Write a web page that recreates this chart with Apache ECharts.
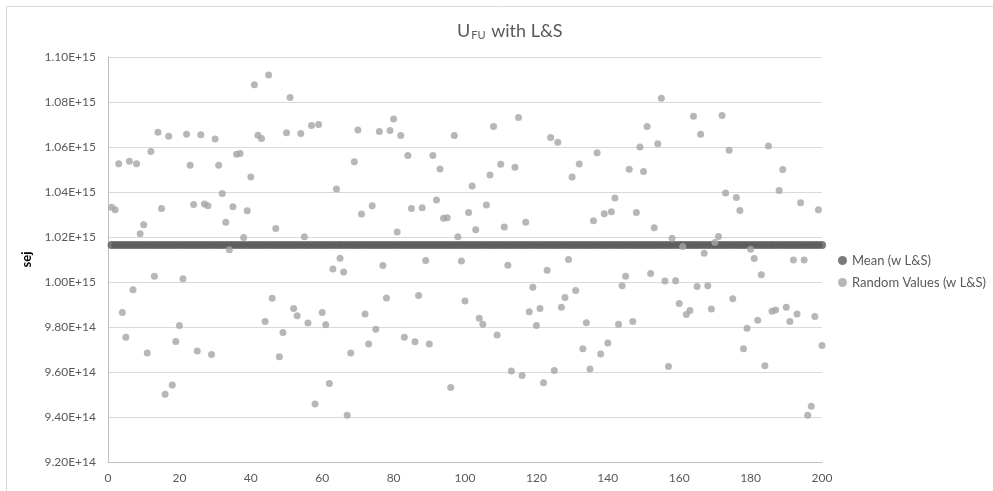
<!DOCTYPE html>
<html>
<head>
<meta charset="utf-8">
<script src="https://cdn.jsdelivr.net/npm/echarts@6/dist/echarts.min.js"></script>
<style>
  html, body { margin: 0; padding: 0; background: #ffffff; }
  #chart { width: 993px; height: 491px; }
</style>
</head>
<body>
<div id="chart"></div>
<script>
// Random emergy values (sej) drawn for runs 1..200, with L&S
const randomValues = [
  1.0332e15, 1.0321e15, 1.0526e15, 9.865e14, 9.754e14, 1.0537e15, 9.966e14, 1.0526e15, 1.0214e15, 1.0254e15,
  9.684e14, 1.0580e15, 1.0026e15, 1.0666e15, 1.0327e15, 9.501e14, 1.0648e15, 9.542e14, 9.736e14, 9.807e14,
  1.0014e15, 1.0657e15, 1.0519e15, 1.0344e15, 9.693e14, 1.0654e15, 1.0347e15, 1.0339e15, 9.678e14, 1.0636e15,
  1.0519e15, 1.0393e15, 1.0266e15, 1.0143e15, 1.0335e15, 1.0568e15, 1.0571e15, 1.0198e15, 1.0317e15, 1.0467e15,
  1.0877e15, 1.0652e15, 1.0638e15, 9.825e14, 1.0920e15, 9.928e14, 1.0238e15, 9.668e14, 9.776e14, 1.0663e15,
  1.0820e15, 9.882e14, 9.850e14, 1.0660e15, 1.0201e15, 9.818e14, 1.0696e15, 9.458e14, 1.0700e15, 9.865e14,
  9.810e14, 9.549e14, 1.0058e15, 1.0413e15, 1.0106e15, 1.0045e15, 9.408e14, 9.685e14, 1.0534e15, 1.0676e15,
  1.0302e15, 9.858e14, 9.724e14, 1.0339e15, 9.790e14, 1.0669e15, 1.0073e15, 9.929e14, 1.0673e15, 1.0725e15,
  1.0222e15, 1.0651e15, 9.754e14, 1.0562e15, 1.0327e15, 9.735e14, 9.940e14, 1.0330e15, 1.0096e15, 9.724e14,
  1.0562e15, 1.0364e15, 1.0502e15, 1.0283e15, 1.0286e15, 9.531e14, 1.0651e15, 1.0201e15, 1.0093e15, 9.916e14,
  1.0309e15, 1.0427e15, 1.0232e15, 9.839e14, 9.812e14, 1.0342e15, 1.0476e15, 1.0691e15, 9.764e14, 1.0523e15,
  1.0244e15, 1.0075e15, 9.605e14, 1.0510e15, 1.0731e15, 9.585e14, 1.0266e15, 9.868e14, 9.977e14, 9.807e14,
  9.882e14, 9.552e14, 1.0052e15, 1.0642e15, 9.607e14, 1.0621e15, 9.888e14, 9.931e14, 1.0100e15, 1.0467e15,
  9.962e14, 1.0525e15, 9.703e14, 9.819e14, 9.613e14, 1.0272e15, 1.0574e15, 9.680e14, 1.0303e15, 9.729e14,
  1.0312e15, 1.0373e15, 9.812e14, 9.983e14, 1.0026e15, 1.0501e15, 9.825e14, 1.0309e15, 1.0600e15, 1.0491e15,
  1.0691e15, 1.0038e15, 1.0241e15, 1.0614e15, 1.0817e15, 1.0005e15, 9.625e14, 1.0195e15, 1.0006e15, 9.905e14,
  1.0158e15, 9.856e14, 9.873e14, 1.0737e15, 9.980e14, 1.0657e15, 1.0128e15, 9.983e14, 9.880e14, 1.0176e15,
  1.0202e15, 1.0740e15, 1.0396e15, 1.0586e15, 9.926e14, 1.0376e15, 1.0318e15, 9.703e14, 9.794e14, 1.0146e15,
  1.0104e15, 9.830e14, 1.0032e15, 9.628e14, 1.0605e15, 9.870e14, 9.876e14, 1.0407e15, 1.0500e15, 9.888e14,
  9.825e14, 1.0098e15, 9.858e14, 1.0352e15, 1.0098e15, 9.408e14, 9.448e14, 9.847e14, 1.0321e15, 9.718e14
];

// Mean of the runs, plotted at every run index
const meanValue = 1.0165e15;

// Axis settings
const xTicks = { min: 0, max: 200, interval: 20 };
const yTicks = { min: 9.2e14, max: 1.1e15, interval: 2e13 };

const randomPoints = randomValues.map((v, i) => [i + 1, v]);
const meanPoints = randomValues.map((v, i) => [i + 1, meanValue]);

const FONT = 'Lato, "Open Sans", sans-serif';
const TEXT = '#595959';

const chart = echarts.init(document.getElementById('chart'), null, { renderer: 'canvas' });

chart.setOption({
  backgroundColor: '#ffffff',
  animation: false,
  graphic: [{
    type: 'rect',
    shape: { x: 6.5, y: 6.5, width: 1000, height: 500 },
    style: { fill: 'none', stroke: '#d9d9d9', lineWidth: 1 },
    silent: true
  }],
  title: {
    text: '{a|U}{b|FU}{a| with L&S}',
    left: 452,
    top: 16,
    textStyle: {
      rich: {
        a: { fontFamily: FONT, fontSize: 18, color: TEXT, fontWeight: 'normal' },
        b: { fontFamily: FONT, fontSize: 11, color: TEXT, fontWeight: 'normal', padding: [9, 1, 0, 1] }
      }
    }
  },
  legend: {
    orient: 'vertical',
    left: 833,
    top: 249,
    itemWidth: 9,
    itemHeight: 9,
    itemGap: 9,
    icon: 'circle',
    textStyle: { fontFamily: FONT, fontSize: 13, color: TEXT },
    data: ['Mean (w L&S)', 'Random Values (w L&S)']
  },
  grid: { left: 108, right: 171, top: 57, bottom: 29, containLabel: false },
  xAxis: {
    type: 'value',
    min: xTicks.min,
    max: xTicks.max,
    interval: xTicks.interval,
    axisLine: { show: true, lineStyle: { color: '#bfbfbf', width: 1 } },
    axisTick: { show: false },
    splitLine: { show: false },
    axisLabel: { fontFamily: FONT, fontSize: 12, color: TEXT, margin: 10 }
  },
  yAxis: {
    type: 'value',
    min: yTicks.min,
    max: yTicks.max,
    interval: yTicks.interval,
    name: 'sej',
    nameLocation: 'middle',
    nameGap: 66,
    nameRotate: 90,
    nameTextStyle: { fontFamily: FONT, fontSize: 13, fontWeight: 'bold', color: '#000000' },
    axisLine: { show: true, lineStyle: { color: '#bfbfbf', width: 1 } },
    axisTick: { show: false },
    splitLine: { show: true, lineStyle: { color: '#d9d9d9', width: 1 } },
    axisLabel: {
      fontFamily: FONT, fontSize: 12, color: TEXT, margin: 12,
      formatter: v => v.toExponential(2).toUpperCase()
    }
  },
  series: [
    {
      name: 'Mean (w L&S)',
      type: 'scatter',
      data: meanPoints,
      symbol: 'circle',
      symbolSize: 8,
      itemStyle: { color: '#595959' }
    },
    {
      name: 'Random Values (w L&S)',
      type: 'scatter',
      data: randomPoints,
      symbol: 'circle',
      symbolSize: 7,
      itemStyle: { color: '#a5a5a5' }
    }
  ]
});
</script>
</body>
</html>
